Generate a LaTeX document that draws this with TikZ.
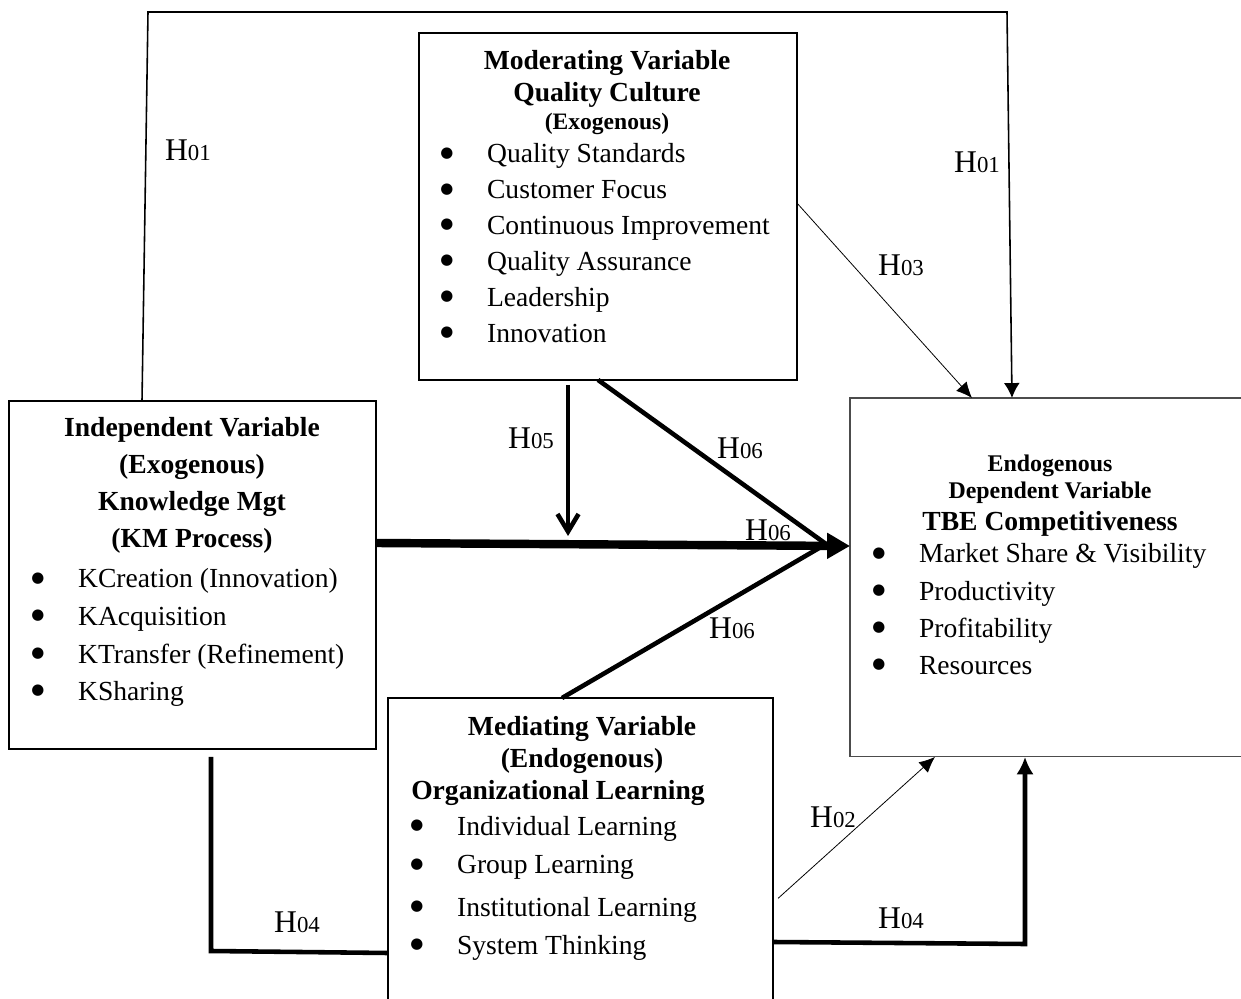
\documentclass[tikz,border=0pt]{standalone}
\usepackage{fontspec}
\setmainfont{Liberation Serif}
\newfontfamily\dotfont{DejaVu Sans}
\usepackage{tikz}
\usetikzlibrary{arrows.meta, positioning}

\tikzstyle{varbox} = [rectangle, draw=black, line width=1.1pt, inner sep=0pt, outer sep=0pt, anchor=north west]
\tikzstyle{head} = [inner sep=0pt, anchor=base, font=\bfseries\fontsize{15.7}{18.1}\selectfont]
\tikzstyle{items} = [inner sep=0pt, anchor=base west, font=\fontsize{15.7}{20.4}\selectfont]
\tikzstyle{hlabel} = [inner sep=0pt]
\tikzstyle{outerline} = [line width=0.9pt]
\tikzstyle{thinarrow} = [line width=0.45pt, -{Latex[length=9pt,width=8pt]}]
\tikzstyle{boldline} = [line width=2.6pt]
\tikzstyle{mainarrow} = [line width=4.8pt, -{Triangle[length=13pt,width=14pt]}]

\newcommand{\hyp}[1]{{\fontsize{18}{18}\selectfont H}{\fontsize{13}{13}\selectfont #1}}
\newcommand{\itm}[1]{\makebox[26.6pt][l]{\raisebox{3.3pt}{\dotfont\fontsize{8.5}{8.5}\selectfont ●}}#1}

\begin{document}
\begin{tikzpicture}[x=0.02cm, y=-0.02cm]
    \useasboundingbox (0,0) rectangle (1241,999);
    \clip (0,0) rectangle (1241,999);

    % the four variable boxes
    \node (mod) [varbox, minimum width=7.56cm, minimum height=6.94cm] at (419,33) {};
    \node (indep) [varbox, minimum width=7.34cm, minimum height=6.96cm] at (9,401) {};
    \node (endo) [varbox, draw=black!70, line width=0.6pt, minimum width=8.4cm, minimum height=7.18cm] at (850,398) {};
    \node (med) [varbox, line width=0.9pt, minimum width=7.7cm, minimum height=6.4cm] at (388,698) {};

    % moderating variable
    \node (modhead) [head] at (607,70) {\begin{tabular}[t]{@{}c@{}}Moderating Variable\\ Quality Culture\\[-2.2pt] {\fontsize{13.4}{15}\selectfont (Exogenous)}\end{tabular}};
    \node (modlist) [items] at (440,163) {\begin{tabular}[t]{@{}l@{}}\itm{Quality Standards}\\ \itm{Customer Focus}\\ \itm{Continuous Improvement}\\ \itm{Quality Assurance}\\ \itm{Leadership}\\ \itm{Innovation}\end{tabular}};

    % independent variable
    \node (indephead) [head, font=\bfseries\fontsize{15.7}{21}\selectfont] at (192,437) {\begin{tabular}[t]{@{}c@{}}Independent Variable\\ (Exogenous)\\ Knowledge Mgt\\ (KM Process)\end{tabular}};
    \node (indeplist) [items, font=\fontsize{15.7}{21.4}\selectfont] at (31,588) {\begin{tabular}[t]{@{}l@{}}\itm{KCreation (Innovation)}\\ \itm{KAcquisition}\\ \itm{KTransfer (Refinement)}\\ \itm{KSharing}\end{tabular}};

    % dependent variable
    \node (endohead) [head, font=\bfseries\fontsize{13.6}{15.3}\selectfont] at (1050,472) {\begin{tabular}[t]{@{}c@{}}Endogenous\\ Dependent Variable\\[2.3pt] {\fontsize{15.7}{18}\selectfont TBE Competitiveness}\end{tabular}};
    \node (endolist) [items, font=\fontsize{15.7}{21.2}\selectfont] at (872,563) {\begin{tabular}[t]{@{}l@{}}\itm{Market Share \& Visibility}\\ \itm{Productivity}\\ \itm{Profitability}\\ \itm{Resources}\end{tabular}};

    % mediating variable
    \node (medhead) [head] at (582,736) {\begin{tabular}[t]{@{}c@{}}Mediating Variable\\ (Endogenous)\end{tabular}};
    \node (medsub) [head] at (558,800) {Organizational Learning};
    \node (medlist) [items, font=\fontsize{15.7}{22.1}\selectfont] at (410,835) {\begin{tabular}[t]{@{}l@{}}\itm{Individual Learning}\\ \itm{Group Learning}\\[2.3pt] \itm{Institutional Learning}\\[-0.6pt] \itm{System Thinking}\end{tabular}};

    % hypothesis labels
    \node (h01left) [hlabel] at (188,150) {\hyp{01}};
    \node (h01right) [hlabel] at (977,162) {\hyp{01}};
    \node (h03) [hlabel] at (901,265) {\hyp{03}};
    \node (h05) [hlabel] at (531,438) {\hyp{05}};
    \node (h06top) [hlabel] at (740,448) {\hyp{06}};
    \node (h06mid) [hlabel] at (768,530) {\hyp{06}};
    \node (h06low) [hlabel] at (732,628) {\hyp{06}};
    \node (h02) [hlabel] at (833,817) {\hyp{02}};
    \node (h04left) [hlabel] at (297,922) {\hyp{04}};
    \node (h04right) [hlabel] at (901,918) {\hyp{04}};

    % connectors
    \coordinate (topleft) at (148,12);
    \coordinate (topright) at (1007,12);
    \draw [outerline, -{Latex[length=8.5pt,width=9pt]}] (indep.north -| 142,0) -- (topleft) -- (topright) -- (endo.north -| 1012,0);
    \draw [thinarrow] (mod.east |- 0,203) -- (endo.north -| 972,0);

    \coordinate (h5end) at (568,536);
    \draw [boldline, shorten <=1mm, -{Straight Barb[length=10pt,width=12pt]}] (mod.south -| 568,0) -- (h5end);
    \coordinate (h6tip) at (826,544);
    \draw [boldline] (mod.south -| 598,0) -- (h6tip);
    \draw [boldline] (med.north -| 562,0) -- (h6tip);
    \draw [mainarrow] (indep.east |- 0,543) -- (endo.west |- 0,546);

    \coordinate (h4lcorner) at (211,951);
    \draw [boldline, shorten <=0.16cm] (indep.south -| 211,0) -- (h4lcorner) -- (med.west |- 0,953);
    \coordinate (h4rcorner) at (1025,944);
    \draw [boldline, -{Latex[length=10pt,width=10pt]}] (med.east |- 0,942) -- (h4rcorner) -- (endo.south -| 1025,0);
    \draw [thinarrow, shorten <=0.14cm] (med.east |- 0,903) -- (endo.south -| 935,0);
\end{tikzpicture}
\end{document}
